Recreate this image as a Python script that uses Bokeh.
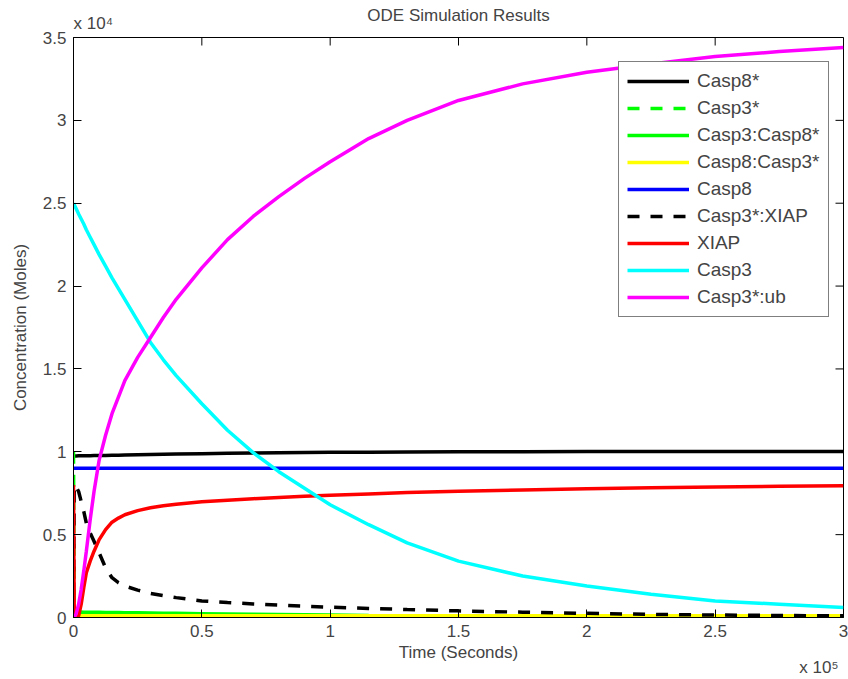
from math import pi
from bokeh.plotting import figure
from bokeh.models import (Legend, LegendItem, FixedTicker, Title,
                          Range1d, ColumnDataSource)
from bokeh.embed import file_html
from bokeh.resources import INLINE

# ---- data (time in seconds, concentrations in moles) ----
time_s = [0, 300, 1000, 2000, 3000, 4000, 5000, 6500, 8000, 10000, 12500,
          15000, 17500, 20000, 25000, 30000, 35000, 40000, 50000, 60000,
          70000, 80000, 90000, 100000, 115000, 130000, 150000, 175000,
          200000, 225000, 250000, 275000, 300000]

casp8_act = [9750, 9750, 9752, 9755, 9758, 9760, 9762, 9766, 9770, 9775, 9782,
             9790, 9797, 9805, 9820, 9835, 9848, 9860, 9885, 9905,
             9925, 9940, 9955, 9965, 9978, 9988, 9998, 10005,
             10010, 10013, 10016, 10018, 10020]
casp3_act = [10000, 400, 250, 200, 190, 180, 170, 155, 140, 125, 112,
             100, 95, 90, 80, 72, 66, 60, 52, 46,
             42, 38, 35, 32, 28, 25, 21, 18,
             15, 12, 10, 8, 6]
casp3_casp8 = [0, 330, 330, 328, 325, 322, 320, 317, 314, 310, 305,
               300, 295, 290, 280, 270, 260, 250, 230, 210,
               192, 176, 160, 146, 128, 112, 92, 72,
               56, 44, 34, 26, 20]
casp8_casp3 = [0, 90, 100, 100, 100, 100, 100, 100, 100, 100, 100,
               100, 100, 100, 100, 100, 100, 100, 100, 100,
               100, 100, 100, 100, 100, 100, 100, 100,
               100, 100, 100, 100, 100]
casp8 = [9000, 9000, 9000, 9000, 9000, 9000, 9000, 9000, 9000, 9000, 9000,
         9000, 9000, 9000, 9000, 9000, 9000, 9000, 9000, 9000,
         9000, 9000, 9000, 9000, 9000, 9000, 9000, 9000,
         9000, 9000, 9000, 9000, 9000]
casp3_xiap = [0, 8000, 7900, 7600, 7000, 6400, 5700, 5100, 4600, 3900, 3000,
              2400, 2100, 1900, 1650, 1450, 1320, 1200, 1000, 900,
              820, 750, 680, 620, 550, 480, 400, 320,
              250, 190, 150, 120, 100]
xiap = [8000, 100, 0, 100, 800, 1800, 2700, 3400, 4000, 4700, 5300,
        5750, 6000, 6200, 6450, 6620, 6740, 6830, 6980, 7080,
        7170, 7240, 7310, 7380, 7460, 7540, 7620, 7700,
        7770, 7830, 7880, 7920, 7950]
casp3 = [25000, 24900, 24680, 24350, 24050, 23750, 23400, 22950, 22500, 21900, 21200,
         20500, 19850, 19200, 17900, 16600, 15550, 14600, 12900, 11300,
         9950, 8800, 7800, 6800, 5600, 4500, 3400, 2500,
         1900, 1400, 1000, 800, 600]
casp3_ub = [0, 20, 200, 800, 1700, 2800, 4000, 5900, 7600, 9500, 11000,
            12300, 13300, 14300, 15700, 16900, 18100, 19200, 21100, 22800,
            24200, 25400, 26500, 27500, 28900, 30000, 31200, 32200,
            32900, 33400, 33850, 34150, 34400]

series_names = ["Casp8*", "Casp3*", "Casp3:Casp8*", "Casp8:Casp3*", "Casp8",
                "Casp3*:XIAP", "XIAP", "Casp3", "Casp3*:ub"]
series_values = [casp8_act, casp3_act, casp3_casp8, casp8_casp3, casp8,
                 casp3_xiap, xiap, casp3, casp3_ub]
series_colors = ["#000000", "#00ff00", "#00ff00", "#ffff00", "#0000ff",
                 "#000000", "#ff0000", "#00ffff", "#ff00ff"]
series_dash = ["solid", "12 11", "solid", "solid", "solid",
               "12 11", "solid", "solid", "solid"]

x_ticks = [0, 50000, 100000, 150000, 200000, 250000, 300000]
x_tick_labels = ["0", "0.5", "1", "1.5", "2", "2.5", "3"]
y_ticks = [0, 5000, 10000, 15000, 20000, 25000, 30000, 35000]
y_tick_labels = ["0", "0.5", "1", "1.5", "2", "2.5", "3", "3.5"]

title_text = "ODE Simulation Results"
y_exponent = "x 10\u2074"
x_exponent = "x 10\u2075"

FONT = "Liberation Sans"

p = figure(width=848, height=679, output_backend="svg", toolbar_location=None,
           x_range=Range1d(0, 300000), y_range=Range1d(0, 35000),
           title=None,
           min_border_left=73, min_border_right=5, min_border_top=37,
           min_border_bottom=62)

p.xgrid.grid_line_color = None
p.ygrid.grid_line_color = None
p.outline_line_color = "black"
p.outline_line_width = 1
p.background_fill_color = "white"
p.border_fill_color = "white"

for ax, ticks, labels in ((p.xaxis[0], x_ticks, x_tick_labels),
                          (p.yaxis[0], y_ticks, y_tick_labels)):
    ax.ticker = FixedTicker(ticks=ticks)
    ax.major_label_overrides = {t: l for t, l in zip(ticks, labels)}
    ax.major_tick_in = 8
    ax.major_tick_out = 0
    ax.minor_tick_line_color = None
    ax.major_label_text_font = FONT
    ax.major_label_text_font_size = "17px"
    ax.axis_label_text_font = FONT
    ax.axis_label_text_font_size = "17px"
    ax.axis_label_text_font_style = "normal"
    ax.axis_line_color = "black"
    ax.major_tick_line_color = "black"
    ax.major_label_standoff = 7

p.xaxis[0].axis_label = "Time (Seconds)"
p.xaxis[0].axis_label_standoff = 3
p.yaxis[0].axis_label = "Concentration (Moles)"
p.yaxis[0].axis_label_standoff = 10

# exponent of the y axis (next to the frame), then the chart title (outer)
p.add_layout(Title(text=y_exponent, align="left", vertical_align="top",
                   standoff=5, offset=0, text_font=FONT,
                   text_font_size="17px", text_font_style="normal"), "above")
p.add_layout(Title(text=title_text, align="center", vertical_align="bottom",
                   standoff=-27, text_font=FONT, text_font_size="17px",
                   text_font_style="normal"), "above")
# exponent of the x axis, below the x axis at the right
p.add_layout(Title(text=x_exponent, align="right", vertical_align="top",
                   standoff=-13, offset=5, text_font=FONT,
                   text_font_size="17px", text_font_style="normal"), "below")

# inward tick marks on the top and right edges of the box
p.ray(x=x_ticks, y=[35000] * len(x_ticks), length=8, angle=-pi / 2,
      length_units="screen", line_color="black", line_width=1)
p.ray(x=[300000] * len(y_ticks), y=y_ticks, length=8, angle=pi,
      length_units="screen", line_color="black", line_width=1)

items = []
for name, vals, col, dash in zip(series_names, series_values, series_colors, series_dash):
    src = ColumnDataSource(dict(t=time_s, v=vals))
    r = p.line("t", "v", source=src, line_color=col, line_width=3.5,
               line_dash=dash)
    items.append(LegendItem(label=name, renderers=[r]))

legend = Legend(items=items, location=(545, 300),
                label_text_font=FONT, label_text_font_size="19px",
                glyph_width=62, glyph_height=22, label_height=22,
                label_standoff=8, spacing=5, padding=8, margin=0,
                border_line_color="black", border_line_width=1,
                background_fill_color="white", background_fill_alpha=1)
p.add_layout(legend)

open("out.html", "w").write(file_html(p, INLINE))
